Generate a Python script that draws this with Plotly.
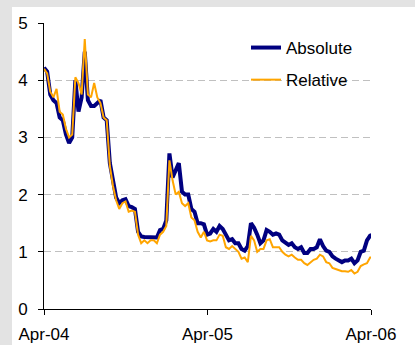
import plotly.graph_objects as go
import pandas as pd

# Weekly readings starting Apr-2004
absolute = [4.22, 4.15, 3.75, 3.65, 3.60, 3.35, 3.30, 3.05, 2.90, 3.00,
            4.00, 3.45, 3.70, 4.50, 3.65, 3.55, 3.55, 3.60, 3.65, 3.35,
            3.30, 2.55, 2.20, 1.95, 1.85, 1.90, 1.92, 1.80, 1.78, 1.75,
            1.35, 1.27, 1.26, 1.26, 1.25, 1.26, 1.25, 1.38, 1.40, 1.55,
            2.72, 2.30, 2.45, 2.55, 2.05, 2.00, 2.00, 1.75, 1.70, 1.50,
            1.50, 1.48, 1.30, 1.32, 1.40, 1.35, 1.45, 1.40, 1.30, 1.20,
            1.22, 1.15, 1.15, 1.05, 1.02, 1.10, 1.50, 1.42, 1.30, 1.15,
            1.20, 1.38, 1.35, 1.30, 1.32, 1.30, 1.20, 1.15, 1.12, 1.15,
            1.08, 1.05, 1.08, 0.98, 0.98, 1.05, 1.05, 1.08, 1.22, 1.10,
            1.02, 1.00, 0.92, 0.88, 0.85, 0.82, 0.85, 0.85, 0.88, 0.80,
            0.85, 1.00, 1.02, 1.20, 1.28, 1.30]
relative = [4.20, 4.12, 3.80, 3.70, 3.85, 3.45, 3.40, 3.15, 3.00, 3.05,
            4.05, 3.95, 3.75, 4.72, 3.75, 3.70, 3.95, 3.70, 3.60, 3.35,
            3.30, 2.50, 2.15, 1.90, 1.75, 1.85, 1.88, 1.70, 1.72, 1.70,
            1.30, 1.15, 1.20, 1.15, 1.20, 1.20, 1.15, 1.30, 1.35, 1.45,
            2.60, 2.25, 2.00, 2.05, 1.85, 1.80, 1.85, 1.60, 1.55, 1.35,
            1.25, 1.35, 1.20, 1.18, 1.20, 1.20, 1.30, 1.28, 1.08, 1.05,
            1.10, 1.05, 1.00, 0.88, 0.90, 0.82, 1.28, 1.20, 1.00, 1.05,
            1.05, 1.20, 1.22, 1.08, 1.08, 1.08, 1.00, 0.95, 0.92, 0.95,
            0.90, 0.86, 0.86, 0.80, 0.77, 0.82, 0.86, 0.88, 0.95, 0.92,
            0.82, 0.80, 0.72, 0.70, 0.68, 0.66, 0.66, 0.65, 0.68, 0.62,
            0.65, 0.75, 0.78, 0.80, 0.90, 0.90]
dates = pd.date_range("2004-04-01", periods=len(absolute), freq="7D")

tick_dates = ["2004-04-01", "2005-04-01", "2006-04-01"]
tick_labels = ["Apr-04", "Apr-05", "Apr-06"]
y_ticks = [0, 1, 2, 3, 4, 5]

fig = go.Figure()
fig.add_trace(go.Scatter(x=dates, y=absolute, name="Absolute", mode="lines",
                         legendgroup="a", line=dict(color="#000080", width=4)))
fig.add_trace(go.Scatter(x=dates, y=relative, name="Relative", mode="lines",
                         legendgroup="r", line=dict(color="#FFA500", width=2)))

W, H = 415, 345
L, R, T, B = 44, 44, 23, 36
pw, ph = W - L - R, H - T - B

def px(x):
    return (x - L) / pw

def py(y):
    return (H - B - y) / ph

gray = "#e3e3e3"
fig.add_shape(type="rect", xref="paper", yref="paper", x0=px(-2), x1=px(12),
              y0=py(H + 2), y1=py(-2), fillcolor=gray, line_width=0, layer="above")
fig.add_shape(type="rect", xref="paper", yref="paper", x0=px(-2), x1=px(W + 2),
              y0=py(7), y1=py(-2), fillcolor=gray, line_width=0, layer="above")

fig.update_layout(
    width=W, height=H,
    margin=dict(l=L, r=R, t=T, b=B, pad=0, autoexpand=False),
    paper_bgcolor="white", plot_bgcolor="white",
    font=dict(family="Liberation Sans, Arial", size=17, color="black"),
    showlegend=True,
    legend=dict(x=px(246), y=py(30), xanchor="left", yanchor="top",
                bgcolor="rgba(0,0,0,0)", traceorder="grouped", tracegroupgap=7,
                font=dict(size=17)),
    xaxis=dict(range=["2004-04-01", "2006-04-01"], tickvals=tick_dates, ticktext=tick_labels,
               ticks="outside", ticklen=5, tickcolor="black", showline=True, linecolor="black",
               linewidth=1, showgrid=False, zeroline=False, ticklabelstandoff=5,
               automargin=False),
    yaxis=dict(range=[0, 5], tickvals=y_ticks, ticks="outside", ticklen=5, tickcolor="black",
               showline=True, linecolor="black", linewidth=1, showgrid=True,
               gridcolor="#c0c0c0", griddash="7px,4px", gridwidth=1, zeroline=False,
               ticklabelstandoff=7, automargin=False),
)

fig.write_html("out.html", config={"displayModeBar": False},
               post_script="document.body.style.margin='0';document.body.style.padding='0';")
